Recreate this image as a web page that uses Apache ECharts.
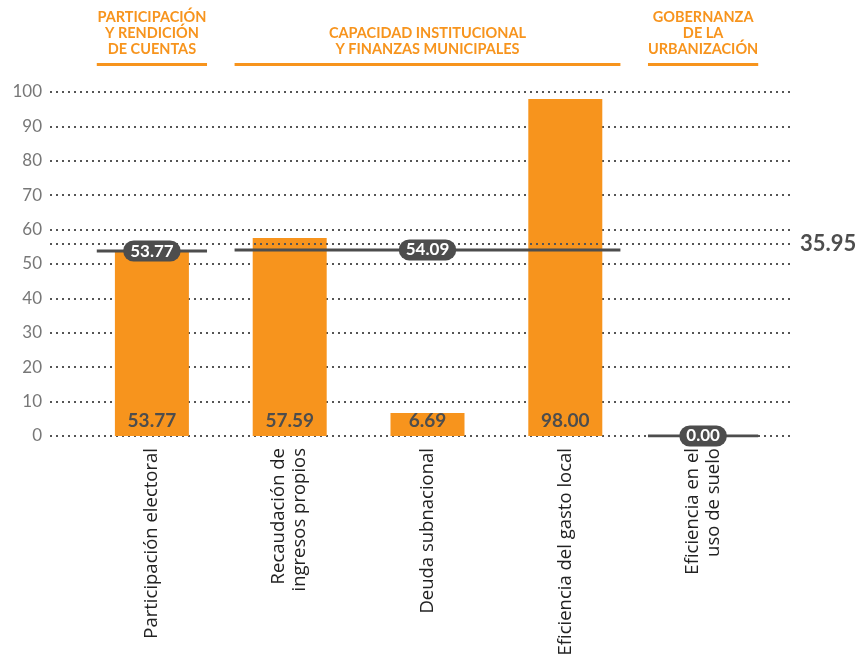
<!DOCTYPE html>
<html>
<head>
<meta charset="utf-8">
<script src="https://cdn.jsdelivr.net/npm/echarts@6/dist/echarts.min.js"></script>
<style>
  html, body { margin: 0; padding: 0; background: #fff; }
  #chart { width: 857px; height: 660px; }
</style>
</head>
<body>
<div id="chart"></div>
<script>
// indicator data
var categories = ['Participación electoral', 'Recaudación de\ningresos propios', 'Deuda subnacional', 'Eficiencia del gasto local', 'Eficiencia en el\nuso de suelo']
var values = [53.77, 57.59, 6.69, 98.00, 0.00]

// groups of indicators (positions are in category index units)
var groupNames = ['PARTICIPACIÓN\nY RENDICIÓN\nDE CUENTAS', 'CAPACIDAD INSTITUCIONAL\nY FINANZAS MUNICIPALES', 'GOBERNANZA\nDE LA\nURBANIZACIÓN']
var groupStart = [-0.4, 0.6, 3.6]
var groupEnd = [0.4, 3.4, 4.4]
var groupMid = [0, 2, 4]
var groupAvg = [53.77, 54.09, 0.00]

// overall reference line
var refValue = 55.8
var refLabel = '35.95'

var orange = '#F7941D'
var dark = '#4d4d4d'
var dots = { color: '#555', width: 2, type: [2, 4] }

var chart = echarts.init(document.getElementById('chart'))

var series = [
  {
    // dotted reference line across the whole plot
    type: 'line',
    xAxisIndex: 2,
    yAxisIndex: 0,
    data: [],
    z: 10,
    markLine: {
      silent: true,
      symbol: 'none',
      lineStyle: dots,
      label: {
        position: 'end',
        distance: 10,
        formatter: refLabel,
        color: dark,
        fontFamily: 'Lato',
        fontWeight: 'bold',
        fontSize: 22
      },
      data: [{ yAxis: refValue }]
    }
  },
  {
    type: 'bar',
    xAxisIndex: 0,
    yAxisIndex: 1,
    data: values,
    barWidth: 74,
    itemStyle: { color: orange },
    label: {
      show: true,
      position: 'insideBottom',
      distance: 6,
      // a zero bar only gets the badge
      formatter: function (p) { return p.value ? p.value.toFixed(2) : '' },
      color: dark,
      fontFamily: 'Lato',
      fontWeight: 'bold',
      fontSize: 19
    }
  }
]

// group average lines
groupAvg.forEach(function (v, i) {
  series.push({
    type: 'line',
    xAxisIndex: 1,
    yAxisIndex: 1,
    data: [[groupStart[i], v], [groupEnd[i], v]],
    symbol: 'none',
    lineStyle: { color: dark, width: 3 },
    z: 12
  })
})

// average badges
series.push({
  type: 'scatter',
  xAxisIndex: 1,
  yAxisIndex: 1,
  data: groupMid.map(function (m, i) { return [m, groupAvg[i]] }),
  symbolSize: 1,
  itemStyle: { color: 'rgba(0,0,0,0)', opacity: 1 },
  z: 14,
  label: {
    show: true,
    position: 'inside',
    formatter: function (p) { return p.value[1].toFixed(2) },
    color: '#fff',
    fontFamily: 'Lato',
    fontWeight: 'bold',
    fontSize: 17,
    backgroundColor: dark,
    borderRadius: 11,
    padding: [2, 7, 2, 7]
  }
})

chart.setOption({
  animation: false,
  grid: [
    { left: 50, right: 67, top: 92, bottom: 224 },
    { left: 83, right: 85, top: 92, bottom: 224 }
  ],
  xAxis: [
    {
      type: 'category',
      gridIndex: 1,
      data: categories,
      axisLine: { show: false },
      axisTick: { show: false },
      axisLabel: {
        rotate: 90,
        margin: 12,
        color: '#222',
        fontFamily: "'Open Sans', sans-serif",
        fontSize: 18.5,
        lineHeight: 21
      }
    },
    { type: 'value', gridIndex: 1, min: -0.5, max: 4.5, show: false },
    { type: 'value', gridIndex: 0, min: 0, max: 1, show: false }
  ],
  yAxis: [
    {
      type: 'value',
      gridIndex: 0,
      min: 0,
      max: 100,
      interval: 10,
      axisLine: { show: false },
      axisTick: { show: false },
      axisLabel: {
        margin: 8,
        color: '#777',
        fontFamily: 'Lato',
        fontSize: 17
      },
      splitLine: { lineStyle: dots }
    },
    { type: 'value', gridIndex: 1, min: 0, max: 100, show: false }
  ],
  series: series
})

// group headers above the plot, placed from the hidden value axis
var graphics = []
groupNames.forEach(function (name, i) {
  var x0 = chart.convertToPixel({ xAxisIndex: 1 }, groupStart[i])
  var x1 = chart.convertToPixel({ xAxisIndex: 1 }, groupEnd[i])
  var xm = chart.convertToPixel({ xAxisIndex: 1 }, groupMid[i])
  graphics.push({
    type: 'text',
    x: xm,
    y: 57,
    style: {
      text: name,
      align: 'center',
      verticalAlign: 'bottom',
      fill: orange,
      font: 'bold 14.5px Lato',
      lineHeight: 16
    }
  })
  graphics.push({
    type: 'rect',
    shape: { x: x0, y: 63, width: x1 - x0, height: 3 },
    style: { fill: orange }
  })
})
chart.setOption({ graphic: graphics })
</script>
</body>
</html>
